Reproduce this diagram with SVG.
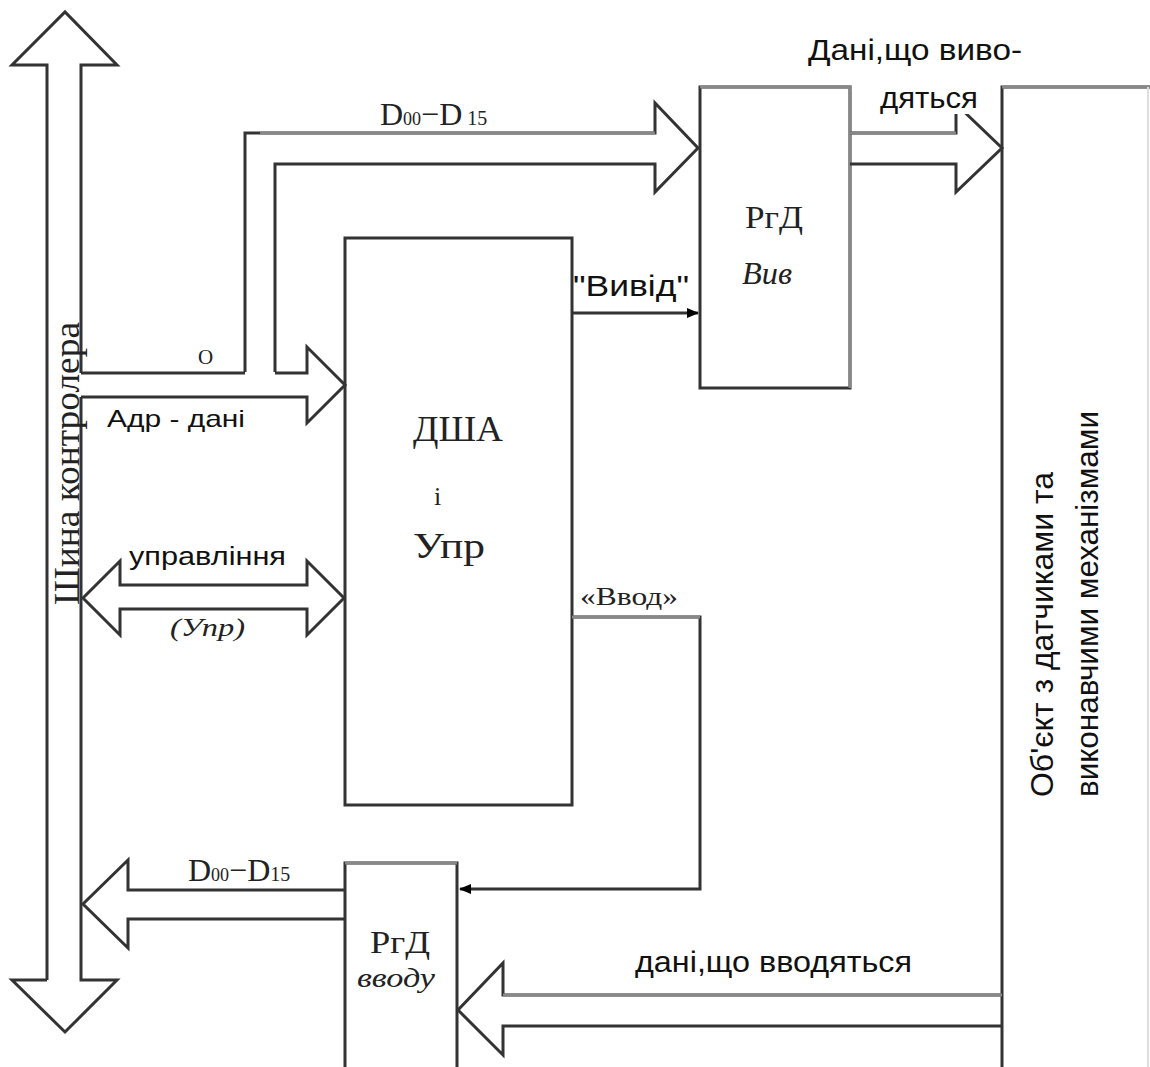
<svg xmlns="http://www.w3.org/2000/svg" width="1150" height="1067" viewBox="0 0 1150 1067">
<style>
.ln{fill:none;stroke:#333;stroke-width:3;stroke-linejoin:miter}
.gr{fill:none;stroke:#888;stroke-width:3}
.sans{font-family:"Liberation Sans",Arial,sans-serif;fill:#111}
.serif{font-family:"Liberation Serif","Times New Roman",serif;fill:#222}
.it{font-style:italic}
</style>
<defs>
<marker id="ah" markerWidth="12" markerHeight="10" refX="11" refY="5" orient="auto" markerUnits="userSpaceOnUse">
<path d="M0,0 L12,5 L0,10 Z" fill="#000"/>
</marker>
</defs>
<rect width="1150" height="1067" fill="#fff"/>

<g id="bus">
<path class="ln" d="M47,980 L47,65 L12,65 L65,12 L117,65 L81,65 L81,373"/>
<path class="ln" d="M81,397 L81,980 L117,980 L65,1032 L12,980 L47,980"/>
<text class="serif" transform="translate(79,605) rotate(-90)" font-size="35" textLength="283" lengthAdjust="spacingAndGlyphs">Шина контролера</text>
</g>

<g id="dsha">
<rect class="ln" x="345" y="238" width="227" height="567"/>
<text class="serif" x="413" y="441" font-size="36" textLength="90" lengthAdjust="spacingAndGlyphs">ДША</text>
<text class="serif" x="434" y="505" font-size="26">і</text>
<text class="serif" x="413" y="558" font-size="36" textLength="72" lengthAdjust="spacingAndGlyphs">Упр</text>
</g>

<g id="rgd-out">
<rect class="ln" x="700" y="87" width="150" height="301"/>
<path class="gr" d="M700,87 L850,87 L850,388"/>
<text class="serif" x="745" y="228" font-size="32" textLength="58" lengthAdjust="spacingAndGlyphs">РгД</text>
<text class="serif it" x="742" y="284" font-size="31" textLength="50" lengthAdjust="spacingAndGlyphs">Вив</text>
</g>

<g id="rgd-in">
<path class="ln" d="M345,1067 L345,863 L457,863 L457,1067"/>
<path class="gr" d="M345,863 L457,863"/>
<text class="serif" x="370" y="953" font-size="32" textLength="60" lengthAdjust="spacingAndGlyphs">РгД</text>
<text class="serif it" x="357" y="987" font-size="28" textLength="78" lengthAdjust="spacingAndGlyphs" fill="#3a3320">вводу</text>
</g>

<g id="object">
<path class="ln" d="M1002,1067 L1002,87 L1150,87"/>
<path class="gr" d="M1002,87 L1150,87"/>
<line x1="1148" y1="87" x2="1148" y2="1067" stroke="#ddd" stroke-width="2"/>
<text class="sans" transform="translate(1053,797) rotate(-90)" font-size="32" textLength="325" lengthAdjust="spacingAndGlyphs">Об'єкт з датчиками та</text>
<text class="sans" transform="translate(1098,797) rotate(-90)" font-size="32" textLength="386" lengthAdjust="spacingAndGlyphs">виконавчими механізмами</text>
</g>

<g id="connectors">
<path class="ln" d="M245,372 L245,133 L655,133 L655,103 L698,148 L655,192 L655,164 L275,164 L275,372"/>
<path class="gr" d="M260,133 L655,133"/>
<path class="ln" d="M81,373 L245,373 M275,373 L307,373 L307,347 L345,385 L307,423 L307,397 L81,397"/>
<path class="ln" d="M120,585 L120,561 L83,598 L120,635 L120,609 L307,609 L307,635 L344,598 L307,561 L307,585 Z"/>
<path class="ln" d="M850,133 L956,133 L956,104 L1002,148 L956,192 L956,164 L850,164"/>
<path class="gr" d="M850,133 L956,133"/>
<path class="ln" d="M345,890 L128,890 L128,860 L83,904 L128,948 L128,919 L345,919"/>
<path class="ln" d="M1002,995 L503,995 L503,963 L458,1010 L503,1055 L503,1026 L1002,1026"/>
<path class="gr" d="M1002,995 L503,995"/>
<line x1="572" y1="313" x2="698" y2="313" stroke="#333" stroke-width="3" marker-end="url(#ah)"/>
<path d="M572,617 L700,617 L700,889 L460,889" fill="none" stroke="#333" stroke-width="3" marker-end="url(#ah)"/>
<path class="gr" d="M572,617 L700,617"/>
</g>

<g id="labels">
<rect x="876" y="88" width="106" height="26" fill="#fff"/>
<text class="sans" x="808" y="60" font-size="30" textLength="214" lengthAdjust="spacingAndGlyphs">Дані,що виво-</text>
<text class="sans" x="880" y="108" font-size="30" textLength="98" lengthAdjust="spacingAndGlyphs">дяться</text>
<text class="serif" x="380" y="125" font-size="32" fill="#444">D<tspan font-size="18">00</tspan>−D<tspan font-size="20"> 15</tspan></text>
<text class="serif" x="198" y="364" font-size="21" fill="#d8d8d8">О</text>
<text class="sans" x="107" y="427" font-size="24" textLength="138" lengthAdjust="spacingAndGlyphs">Адр - дані</text>
<text class="sans" x="129" y="565" font-size="26" textLength="157" lengthAdjust="spacingAndGlyphs">управління</text>
<text class="serif it" x="170" y="636" font-size="26" fill="#777" textLength="75" lengthAdjust="spacingAndGlyphs">(Упр)</text>
<text class="sans" x="573" y="296" font-size="30" textLength="116" lengthAdjust="spacingAndGlyphs">"Вивід"</text>
<text class="serif" x="580" y="605" font-size="26" textLength="98" lengthAdjust="spacingAndGlyphs">«Ввод»</text>
<text class="serif" x="188" y="881" font-size="32" fill="#444">D<tspan font-size="18">00</tspan>−D<tspan font-size="20">15</tspan></text>
<text class="sans" x="635" y="972" font-size="30" textLength="277" lengthAdjust="spacingAndGlyphs">дані,що вводяться</text>
</g>
</svg>
